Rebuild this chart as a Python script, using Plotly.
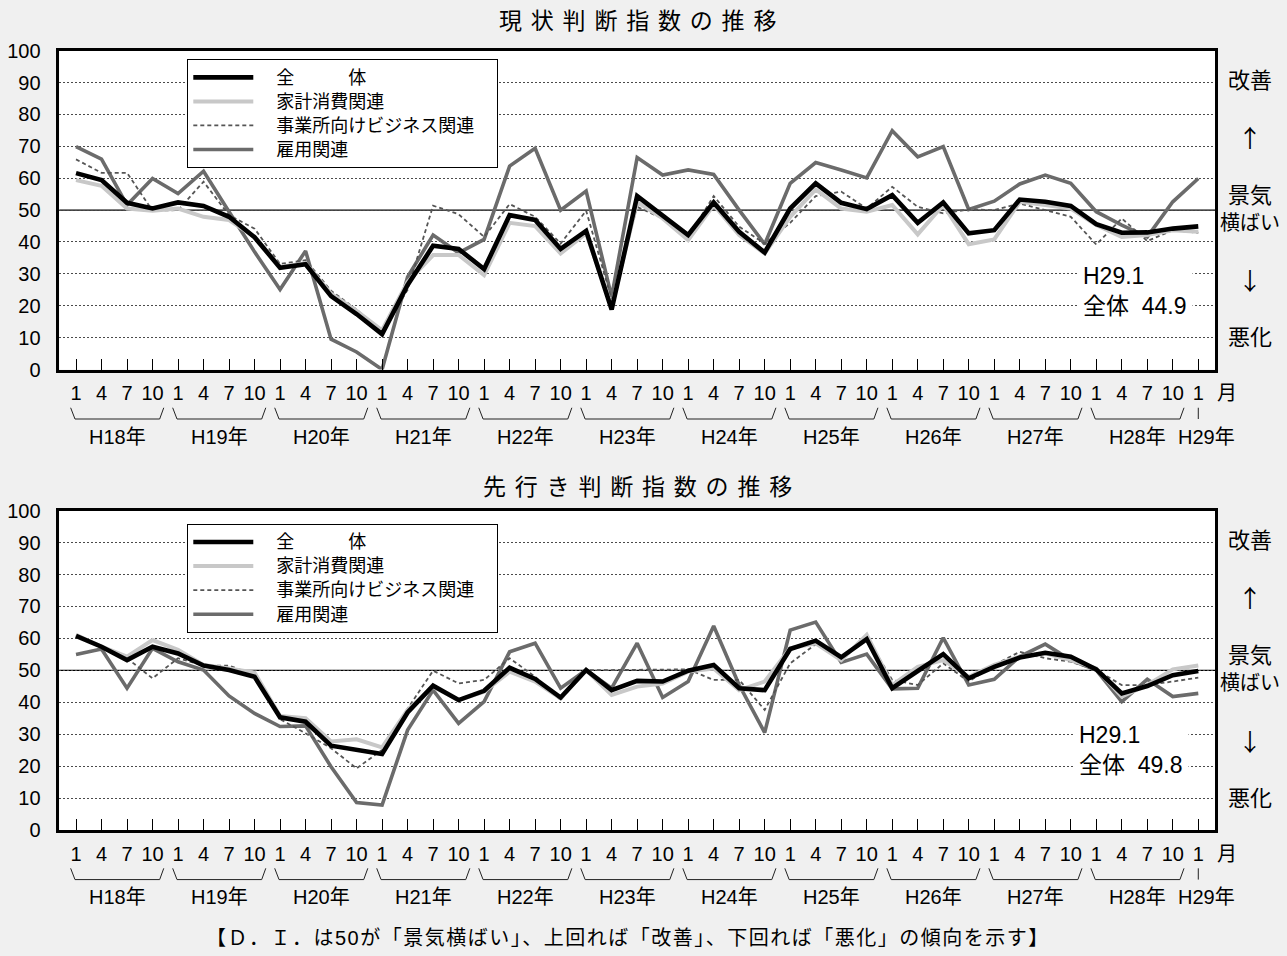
import plotly.graph_objects as go

# ---------------- data ----------------
months = ["1", "4", "7", "10"] * 11 + ["1"]
years = ["H18年", "H19年", "H20年", "H21年", "H22年", "H23年",
         "H24年", "H25年", "H26年", "H27年", "H28年"]
last_year = "H29年"
series_names = ["全　　　体", "家計消費関連", "事業所向けビジネス関連", "雇用関連"]

# 現状判断指数
now_total = [61.6, 59.4, 52.3, 50.5, 52.4, 51.3, 47.9, 41.5, 31.9, 33.0, 23.0, 17.4, 11.1,
             26.5, 38.8, 37.8, 31.5, 48.4, 46.9, 37.8, 43.5, 18.8, 54.4, 48.2, 42.2, 52.4,
             43.2, 36.7, 50.5, 58.4, 52.3, 50.3, 54.7, 46.0, 52.4, 42.7, 43.7, 53.3, 52.6,
             51.3, 45.6, 42.9, 43.0, 44.2, 44.9]
now_household = [59.4, 57.6, 50.5, 49.8, 50.5, 47.9, 46.9, 41.6, 32.2, 33.3, 23.8, 18.4, 12.3,
                 27.5, 35.9, 35.9, 29.6, 46.0, 45.0, 36.4, 42.7, 19.7, 52.5, 47.4, 40.6, 51.6,
                 42.2, 36.4, 47.9, 56.5, 50.5, 49.5, 51.6, 42.4, 51.6, 39.3, 40.8, 52.6, 51.6,
                 50.5, 45.3, 41.6, 42.2, 43.7, 43.2]
now_business = [65.9, 61.7, 61.7, 49.8, 50.0, 58.9, 48.4, 44.2, 33.1, 34.3, 24.7, 18.8, 11.8,
                25.0, 51.4, 48.7, 41.6, 51.9, 47.9, 39.5, 49.8, 22.0, 51.0, 47.4, 41.6, 54.4,
                44.8, 39.5, 46.0, 54.4, 55.8, 50.5, 57.3, 51.0, 49.0, 50.2, 50.0, 52.1, 50.0,
                47.9, 39.2, 47.4, 40.3, 43.7, 42.9]
now_employment = [69.9, 66.0, 51.6, 59.9, 55.2, 62.2, 49.5, 36.9, 25.1, 37.2, 9.5, 5.5, 0.0,
                  29.0, 42.2, 36.6, 40.8, 63.8, 69.4, 50.0, 56.0, 22.8, 66.5, 61.0, 62.6, 61.2,
                  50.0, 39.3, 58.4, 64.9, 62.6, 60.1, 74.9, 66.7, 69.9, 50.2, 52.8, 58.2, 61.0,
                  58.4, 49.5, 45.3, 41.6, 52.6, 59.9]

# 先行き判断指数
fut_total = [60.8, 57.4, 53.2, 57.4, 55.3, 51.5, 50.1, 48.0, 35.3, 33.9, 26.4, 25.1, 23.8,
             36.8, 45.2, 40.7, 43.6, 50.8, 47.3, 41.5, 50.1, 43.8, 46.7, 46.5, 49.9, 51.7,
             44.4, 43.8, 56.7, 59.3, 54.1, 59.8, 44.4, 49.8, 55.1, 47.5, 51.1, 54.0, 55.5,
             54.3, 50.3, 42.8, 45.1, 48.5, 49.8]
fut_household = [61.1, 57.4, 54.3, 59.5, 56.4, 51.7, 50.6, 49.3, 35.7, 35.0, 27.7, 28.4, 25.9,
                 37.6, 44.9, 40.7, 43.3, 49.6, 46.5, 41.2, 50.1, 42.3, 44.9, 45.9, 49.6, 50.6,
                 43.8, 46.5, 56.9, 58.5, 53.2, 61.1, 45.4, 51.1, 53.2, 48.0, 51.7, 54.3, 55.3,
                 53.2, 50.6, 41.8, 45.4, 50.3, 51.5]
fut_business = [61.0, 57.4, 53.8, 47.5, 53.8, 51.5, 51.5, 48.5, 34.7, 30.3, 25.6, 19.3, 25.1,
                38.0, 49.9, 45.9, 47.0, 53.8, 48.0, 40.7, 50.1, 50.1, 50.1, 50.1, 50.3, 47.0,
                47.0, 37.6, 52.2, 58.2, 53.4, 60.3, 47.0, 45.4, 52.2, 46.5, 51.7, 55.8, 53.8,
                52.7, 50.1, 45.4, 45.4, 46.5, 47.7]
fut_employment = [55.0, 56.7, 44.4, 56.9, 52.7, 50.1, 42.0, 36.5, 32.4, 32.6, 19.8, 8.6, 7.8,
                  31.3, 43.8, 33.4, 40.2, 55.8, 58.5, 44.4, 50.1, 44.4, 58.5, 41.5, 46.5, 63.9,
                  45.4, 30.5, 62.6, 65.1, 52.5, 55.1, 44.2, 44.4, 60.2, 45.4, 47.2, 54.3, 58.2,
                  53.2, 50.1, 40.2, 47.2, 41.8, 42.8]

y_ticks = list(range(0, 101, 10))
# --------------------------------------

FONT = "Liberation Sans, Arial, Noto Sans CJK JP, sans-serif"
CJK = "Noto Sans CJK JP, sans-serif"
x_idx = list(range(len(months)))

styles = [
    dict(color="#000000", width=4.6, dash="solid"),
    dict(color="#c8c8c8", width=4.0, dash="solid"),
    dict(color="#555555", width=1.8, dash="4px,3px"),
    dict(color="#6b6b6b", width=3.6, dash="solid"),
]

fig = go.Figure()

panels = [
    ("x", "y", "legend", [now_total, now_household, now_business, now_employment]),
    ("x2", "y2", "legend2", [fut_total, fut_household, fut_business, fut_employment]),
]
for xa, ya, lg, data in panels:
    # draw order: employment, business, household, total (total on top)
    for k in [3, 2, 1, 0]:
        fig.add_trace(go.Scatter(
            x=x_idx, y=data[k], mode="lines",
            name='<span style="font-size:18px">\u3000' + series_names[k] + "\u3000</span>",
            line=styles[k], xaxis=xa, yaxis=ya, legend=lg, legendrank=k + 1,
            hoverinfo="skip"))

xdom = [59.3 / 1287, 1215 / 1287]
xr = [-0.655, 44.655]
ydom_top = [1 - 369.5 / 956, 1 - 50.7 / 956]
ydom_bot = [1 - 830 / 956, 1 - 510.7 / 956]

xaxis_common = dict(
    domain=xdom, range=xr, tickmode="array", tickvals=x_idx, ticktext=months,
    ticks="inside", ticklen=11, tickwidth=1, tickcolor="black",
    showline=True, linecolor="black", linewidth=2.5, mirror=True,
    showgrid=False, zeroline=False, ticklabelstandoff=4, automargin=False,
    tickfont=dict(family=FONT, size=20, color="black"), fixedrange=True)
yaxis_common = dict(
    range=[0, 100], tickmode="array", tickvals=y_ticks,
    showline=True, linecolor="black", linewidth=2.5, mirror=True,
    showgrid=True, gridcolor="#4a4a4a", gridwidth=1, griddash="2px,2px",
    zeroline=False, ticks="", ticklabelstandoff=12, automargin=False,
    tickfont=dict(family=FONT, size=20, color="black"), fixedrange=True)

legend_common = dict(
    xanchor="left", yanchor="top", bgcolor="white", bordercolor="black", borderwidth=1,
    font=dict(family=FONT, size=16.2, color="black"), itemwidth=60, tracegroupgap=0,
    traceorder="normal")

fig.update_layout(
    width=1287, height=956, margin=dict(l=0, r=0, t=0, b=0, pad=0, autoexpand=False),
    paper_bgcolor="#f0f0f0", plot_bgcolor="white", showlegend=True,
    xaxis=dict(xaxis_common, anchor="y"),
    yaxis=dict(yaxis_common, domain=ydom_top, anchor="x"),
    xaxis2=dict(xaxis_common, anchor="y2"),
    yaxis2=dict(yaxis_common, domain=ydom_bot, anchor="x2"),
    legend=dict(legend_common, x=187.3 / 1287, y=1 - 59.3 / 956),
    legend2=dict(legend_common, x=187.3 / 1287, y=1 - 524 / 956),
)

shapes = []
annotations = []
titles = ["現状判断指数の推移", "先行き判断指数の推移"]
title_y = [1 - 21 / 956, 1 - 487 / 956]
latest = [now_total[-1], fut_total[-1]]
note_pos = [(0.8806, 0.2456), (0.8771, 0.2505)]


def ann(**kw):
    base = dict(showarrow=False, xanchor="center", yanchor="middle")
    base.update(kw)
    return base


for p, (xa, ya) in enumerate([("x", "y"), ("x2", "y2")]):
    ydref = ya + " domain"
    # 50 reference line
    shapes.append(dict(type="line", xref=xa + " domain", x0=0, x1=1, yref=ya, y0=50, y1=50,
                       line=dict(color="black", width=1.3), layer="below"))
    # year braces
    for k, yl in enumerate(years):
        b = 4 * k
        shapes.append(dict(
            type="path", xref=xa, yref=ydref,
            path=f"M{b - 0.21},-0.120 L{b - 0.04},-0.1553 L{b + 3.28},-0.1553 L{b + 3.44},-0.120",
            line=dict(color="#222222", width=1)))
        annotations.append(ann(x=b + 1.62, y=-0.2108, xref=xa, yref=ydref, text=yl,
                               font=dict(family=FONT, size=20, color="black")))
    shapes.append(dict(type="line", xref=xa, yref=ydref, x0=44, x1=44, y0=-0.120, y1=-0.1553,
                       line=dict(color="#222222", width=1)))
    annotations.append(ann(x=44.34, y=-0.2108, xref=xa, yref=ydref, text=last_year,
                           font=dict(family=FONT, size=20, color="black")))
    annotations.append(ann(x=1226.7 / 1287, y=-0.0737, xref="paper", yref=ydref, text="月",
                           font=dict(family=FONT, size=20, color="black")))
    # right side labels
    for txt, yy, sz, fam in [("改善", 0.906, 22, FONT), ("↑", 0.73, 24, CJK),
                             ("景気", 0.547, 22, FONT), ("横ばい", 0.46, 20, FONT),
                             ("↓", 0.281, 24, CJK), ("悪化", 0.099, 22, FONT)]:
        annotations.append(ann(x=1250 / 1287, y=yy, xref="paper", yref=ydref, text=txt,
                               font=dict(family=fam, size=sz, color="black")))
    # latest value note
    nx, ny = note_pos[p]
    annotations.append(ann(x=nx, y=ny, xref=xa + " domain", yref=ydref, xanchor="left",
                           align="left", text=f"H29.1<br>全体  {latest[p]}",
                           bgcolor="white", borderpad=5,
                           font=dict(family=FONT, size=23, color="black")))
    # panel title
    annotations.append(ann(x=641.7 / 1287, y=title_y[p], xref="paper", yref="paper",
                           text=f'<span style="letter-spacing:8.8px">{titles[p]}</span>',
                           font=dict(family=FONT, size=23, color="black")))

annotations.append(ann(
    x=628 / 1287, y=1 - 938 / 956, xref="paper", yref="paper",
    text='<span style="letter-spacing:1.5px">【Ｄ．Ｉ．は50が「景気横ばい」、上回れば「改善」、'
         '下回れば「悪化」の傾向を示す】</span>',
    font=dict(family=FONT, size=20, color="black")))

fig.update_layout(shapes=shapes, annotations=annotations)
fig.write_html("out.html")
